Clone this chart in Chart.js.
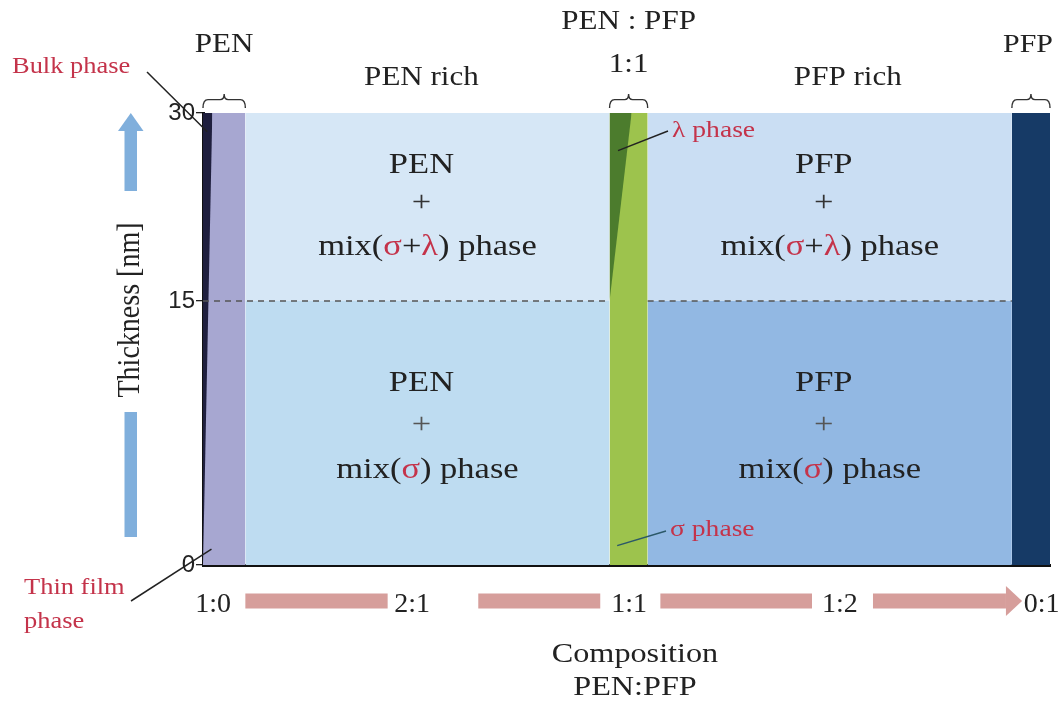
<!DOCTYPE html>
<html>
<head>
<meta charset="utf-8">
<script src="https://cdn.jsdelivr.net/npm/chart.js@4.4.1/dist/chart.umd.min.js"></script>
<style>
  html, body { margin: 0; padding: 0; background: #fff; }
  #wrap { width: 1058px; height: 703px; }
</style>
</head>
<body>
<div id="wrap"><canvas id="phaseChart"></canvas></div>
<script>
// ---- data (schematic phase diagram) ----
const thicknessTicks = [0, 15, 30];                 // nm
const layerBounds = [0, 15, 30];                    // thin-film side / mixed-phase split
const compositionTicks = [0.012, 0.247, 0.503, 0.752, 0.99];  // PFP fraction (schematic)
const compositionLabels = ['1:0', '2:1', '1:1', '1:2', '0:1'];
const regionBounds = [0, 0.05, 0.48, 0.525, 0.955, 1];
const regionTitles = [['PEN'], ['PEN rich'], ['PEN : PFP', '1:1'], ['PFP rich'], ['PFP']];
const bulkWedge = [0, 0.011];        // bulk phase in pure PEN, 0 -> 30 nm
const lambdaWedge = [0.48, 0.506];   // lambda phase in the 1:1 column
const lambdaOnset = 15;              // nm

// ---- look ----
const SERIF = '"Liberation Serif", "Times New Roman", serif';
const RED = '#c4334a';
const INK = '#222';
const STRETCH = 1.15;      // the source figure is a bit wide
const LOWER_SHARE = 0.584; // 0-15 nm takes this much of the height

// y axis whose 0-15 and 15-30 parts are drawn at different heights
class SplitScale extends Chart.LinearScale {
    static id = 'split';
    frac(v) {
        const [a, b, c] = layerBounds;
        if (v <= b) return (v - a) / (b - a) * LOWER_SHARE;
        return LOWER_SHARE + (v - b) / (c - b) * (1 - LOWER_SHARE);
    }
    getPixelForValue(v) {
        return this.bottom - this.frac(v) * (this.bottom - this.top);
    }
    getValueForPixel(p) {
        const [a, b, c] = layerBounds;
        const f = (this.bottom - p) / (this.bottom - this.top);
        if (f <= LOWER_SHARE) return a + f / LOWER_SHARE * (b - a);
        return b + (f - LOWER_SHARE) / (1 - LOWER_SHARE) * (c - b);
    }
}
Chart.register(SplitScale);

const maxNm = layerBounds[2], midNm = layerBounds[1];
const colors = {
    pen: '#a7a7d1', penUpper: '#d6e7f6', penLower: '#bedcf1',
    mix: '#9dc34d', pfpUpper: '#cadef3', pfpLower: '#92b8e3', pfp: '#163a66',
    bulk: '#1f1f3e', lambda: '#4c7c2d'
};

function band(x0, x1, yTop, fill, color) {
    return {
        data: [{ x: x0, y: yTop }, { x: x1, y: yTop }],
        fill: fill, backgroundColor: color, borderColor: 'rgba(0,0,0,0)',
        borderWidth: 0, pointRadius: 0, tension: 0
    };
}
const edge = (pts) => ({ data: pts, fill: false, borderWidth: 0, borderColor: 'rgba(0,0,0,0)', pointRadius: 0 });
const rb = regionBounds;

const datasets = [
    // 15 nm boundary
    {
        data: [{ x: rb[0], y: midNm }, { x: rb[2], y: midNm }, { x: 0.5, y: null }, { x: rb[3], y: midNm }, { x: rb[4], y: midNm }],
        borderColor: '#555', borderWidth: 1.4, borderDash: [6, 5], pointRadius: 0, fill: false, spanGaps: false
    },
    // bulk wedge (fills down to the slanted edge below it)
    band(bulkWedge[0], bulkWedge[1], maxNm, '+1', colors.bulk),
    edge([{ x: bulkWedge[0], y: layerBounds[0] }, { x: bulkWedge[1], y: maxNm }]),
    // lambda wedge
    band(lambdaWedge[0], lambdaWedge[1], maxNm, '+1', colors.lambda),
    edge([{ x: lambdaWedge[0], y: lambdaOnset }, { x: lambdaWedge[1], y: maxNm }]),
    // columns and regions
    band(rb[0], rb[1], maxNm, 'origin', colors.pen),
    band(rb[1], rb[2], maxNm, { value: midNm }, colors.penUpper),
    band(rb[1], rb[2], midNm, 'origin', colors.penLower),
    band(rb[2], rb[3], maxNm, 'origin', colors.mix),
    band(rb[3], rb[4], maxNm, { value: midNm }, colors.pfpUpper),
    band(rb[3], rb[4], midNm, 'origin', colors.pfpLower),
    band(rb[4], rb[5], maxNm, 'origin', colors.pfp)
];

function txt(ctx, s, x, y, size, color = INK, align = 'center') {
    ctx.save();
    ctx.translate(x, y);
    ctx.scale(STRETCH, 1);
    ctx.font = `${size}px ${SERIF}`;
    ctx.fillStyle = color;
    ctx.textAlign = align;
    ctx.textBaseline = 'middle';
    ctx.fillText(s, 0, 0);
    ctx.restore();
}

function richTxt(ctx, parts, cx, y, size) {
    ctx.save();
    ctx.font = `${size}px ${SERIF}`;
    const widths = parts.map(p => ctx.measureText(p[0]).width * STRETCH);
    let x = cx - widths.reduce((a, b) => a + b, 0) / 2;
    parts.forEach((p, i) => { txt(ctx, p[0], x, y, size, p[1], 'left'); x += widths[i]; });
    ctx.restore();
}

function brace(ctx, x0, x1, y0) {
    const cx = (x0 + x1) / 2, h = 14;
    ctx.save();
    ctx.strokeStyle = '#333';
    ctx.lineWidth = 1.4;
    ctx.beginPath();
    ctx.moveTo(x0, y0);
    ctx.quadraticCurveTo(x0, y0 - h * 0.6, x0 + 5, y0 - h * 0.6);
    ctx.lineTo(cx - 4, y0 - h * 0.6);
    ctx.quadraticCurveTo(cx, y0 - h * 0.6, cx, y0 - h);
    ctx.quadraticCurveTo(cx, y0 - h * 0.6, cx + 4, y0 - h * 0.6);
    ctx.lineTo(x1 - 5, y0 - h * 0.6);
    ctx.quadraticCurveTo(x1, y0 - h * 0.6, x1, y0);
    ctx.stroke();
    ctx.restore();
}

function leader(ctx, x0, y0, x1, y1, color = INK) {
    ctx.save();
    ctx.strokeStyle = color;
    ctx.lineWidth = 1.5;
    ctx.beginPath();
    ctx.moveTo(x0, y0);
    ctx.lineTo(x1, y1);
    ctx.stroke();
    ctx.restore();
}

const decorPlugin = {
    id: 'decor',
    afterDraw(chart) {
        const { ctx, scales: { x, y } } = chart;
        const cx = (i) => (x.getPixelForValue(rb[i]) + x.getPixelForValue(rb[i + 1])) / 2;

        // column / region titles and braces
        const titleY = [[45], [78], [22, 65], [78], [45]];
        const titleDx = [0, -6, 0, 18, -3];
        regionTitles.forEach((lines, i) => {
            lines.forEach((s, k) => txt(ctx, s, cx(i) + titleDx[i], titleY[i][k], i === 4 ? 26 : 27));
        });
        [0, 2, 4].forEach(i => brace(ctx, x.getPixelForValue(rb[i]), x.getPixelForValue(rb[i + 1]), y.getPixelForValue(maxNm) - 5));

        // phase labels inside the rich regions
        const upperY = y.getPixelForValue((midNm + maxNm) / 2);
        const lowerY = y.getPixelForValue((layerBounds[0] + midNm) / 2);
        [[1, 'PEN'], [3, 'PFP']].forEach(([i, name]) => {
            const c = cx(i);
            txt(ctx, name, c - 6, upperY - 42, 30);
            txt(ctx, '+', c - 6, upperY - 4, 30, '#333');
            richTxt(ctx, [['mix(', INK], ['σ', RED], ['+', INK], ['λ', RED], [') phase', INK]], c, upperY + 40, 30);
            txt(ctx, name, c - 6, lowerY - 50, 30);
            txt(ctx, '+', c - 6, lowerY - 8, 30, '#555');
            richTxt(ctx, [['mix(', INK], ['σ', RED], [') phase', INK]], c, lowerY + 37, 30);
        });

        // callouts
        txt(ctx, 'Bulk phase', 12, 67, 23, RED, 'left');
        leader(ctx, 147, 72, x.getPixelForValue(0.005), y.getPixelForValue(28.5));
        txt(ctx, 'Thin film', 24, 588, 23, RED, 'left');
        txt(ctx, 'phase', 24, 622, 23, RED, 'left');
        leader(ctx, 131, 601, x.getPixelForValue(0.01), y.getPixelForValue(0.9));
        leader(ctx, x.getPixelForValue(0.49), y.getPixelForValue(27), 668, 131);
        txt(ctx, 'λ phase', 672, 131, 24, RED, 'left');
        leader(ctx, x.getPixelForValue(0.489), y.getPixelForValue(1.1), 666, 531, '#2b5868');
        txt(ctx, 'σ phase', 670, 530, 24, RED, 'left');

        // y title with the blue thickness arrow
        ctx.save();
        ctx.fillStyle = '#80afdc';
        ctx.fillRect(124.5, 129, 12.5, 62);
        ctx.beginPath();
        ctx.moveTo(118, 131); ctx.lineTo(143.5, 131); ctx.lineTo(130.8, 113); ctx.closePath();
        ctx.fill();
        ctx.fillRect(124.5, 412, 12.5, 125);
        ctx.translate(131, 310);
        ctx.rotate(-Math.PI / 2);
        ctx.scale(1, STRETCH);
        ctx.font = `28px ${SERIF}`;
        ctx.fillStyle = INK;
        ctx.textAlign = 'center';
        ctx.textBaseline = 'middle';
        ctx.fillText('Thickness [nm]', 0, 0);
        ctx.restore();

        // pink composition arrow between the tick labels
        const segs = [[0.05, 0.218], [0.325, 0.469], [0.54, 0.719], [0.791, 0.948]];
        const ay = 601;
        ctx.save();
        ctx.fillStyle = '#d69e9b';
        segs.forEach(([a, b]) => {
            const xa = x.getPixelForValue(a), xb = x.getPixelForValue(b);
            ctx.fillRect(xa, ay - 7.5, xb - xa, 15);
        });
        const tip = x.getPixelForValue(0.967), base = x.getPixelForValue(0.948);
        ctx.beginPath();
        ctx.moveTo(base, ay - 15); ctx.lineTo(tip, ay); ctx.lineTo(base, ay + 15); ctx.closePath();
        ctx.fill();
        ctx.restore();

        // x title
        const xc = x.getPixelForValue(0.51);
        txt(ctx, 'Composition', xc, 655, 28);
        txt(ctx, 'PEN:PFP', xc, 688, 28);
    }
};

new Chart(document.getElementById('phaseChart'), {
    type: 'line',
    data: { datasets },
    options: {
        responsive: true,
        maintainAspectRatio: false,
        animation: false,
        devicePixelRatio: 1,
        layout: { padding: { left: 143, right: 8, top: 113, bottom: 0 } },
        plugins: { legend: { display: false }, tooltip: { enabled: false } },
        scales: {
            x: {
                type: 'linear', min: 0, max: 1, z: 1,
                border: { color: '#111', width: 3 },
                grid: { drawOnChartArea: false, drawTicks: false },
                ticks: {
                    autoSkip: false, maxRotation: 0, padding: 23, color: INK,
                    font: { family: SERIF, size: 28 },
                    callback: (v, i) => compositionLabels[i]
                },
                afterBuildTicks: s => { s.ticks = compositionTicks.map(v => ({ value: v })); },
                afterFit: s => { s.height = 138; s.paddingLeft = 0; s.paddingRight = 0; }
            },
            y: {
                type: 'split', min: 0, max: 30, z: 1,
                border: { color: '#111', width: 3 },
                grid: { drawOnChartArea: false, tickLength: 7, color: '#222', lineWidth: 1.3 },
                ticks: { padding: 1, color: INK, font: { family: '"Liberation Sans", sans-serif', size: 24 } },
                afterBuildTicks: s => { s.ticks = thicknessTicks.map(v => ({ value: v })); },
                afterFit: s => { s.width = 60; s.paddingTop = 0; s.paddingBottom = 0; }
            }
        }
    },
    plugins: [decorPlugin]
});
</script>
</body>
</html>
